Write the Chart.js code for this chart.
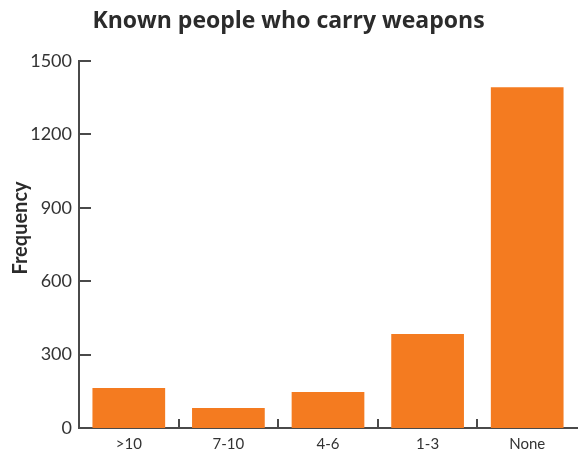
<!DOCTYPE html>
<html>
<head>
<meta charset="utf-8">
<script src="https://cdn.jsdelivr.net/npm/chart.js@4"></script>
<style>
  body { margin: 0; background: #fff; }
  canvas { display: block; }
</style>
</head>
<body>
<canvas id="chart" width="578" height="450"></canvas>
<script>
const categories = [">10", "7-10", "4-6", "1-3", "None"];
const frequency = [163, 82, 147, 384, 1393];
const yTicks = [0, 300, 600, 900, 1200, 1500];

const axisColor = "#4a4a4a";
const fontFamily = "Lato, 'Open Sans', sans-serif";
const titleFamily = "'Open Sans', Lato, sans-serif";

// inward tick marks + y title centred on the canvas
const axisMarks = {
    id: "axisMarks",
    afterDraw(chart) {
        const ctx = chart.ctx;
        const area = chart.chartArea;
        const x = chart.scales.x;
        const y = chart.scales.y;
        ctx.save();
        ctx.strokeStyle = axisColor;
        ctx.lineWidth = 2;
        yTicks.forEach(v => {
            const py = Math.round(y.getPixelForValue(v));
            ctx.beginPath();
            ctx.moveTo(area.left, py);
            ctx.lineTo(area.left + 12, py);
            ctx.stroke();
        });
        for (let i = 1; i < categories.length; i++) {
            const px = Math.round((x.getPixelForValue(i - 1) + x.getPixelForValue(i)) / 2);
            ctx.beginPath();
            ctx.moveTo(px, area.bottom - 9);
            ctx.lineTo(px, area.bottom);
            ctx.stroke();
        }
        ctx.translate(21, 228);
        ctx.rotate(-Math.PI / 2);
        ctx.fillStyle = "#2b2b2b";
        ctx.font = "bold 20px " + fontFamily;
        ctx.textAlign = "center";
        ctx.textBaseline = "middle";
        ctx.fillText("Frequency", 0, 0);
        ctx.restore();
    }
};

new Chart(document.getElementById("chart"), {
    type: "bar",
    data: {
        labels: categories,
        datasets: [{
            data: frequency,
            backgroundColor: "#f47b20",
            barPercentage: 0.73,
            categoryPercentage: 1
        }]
    },
    options: {
        responsive: false,
        animation: false,
        layout: { padding: { left: 0, right: 1, top: 0, bottom: 0 } },
        plugins: {
            legend: { display: false },
            tooltip: { enabled: false },
            title: {
                display: true,
                text: "Known people who carry weapons",
                color: "#2b2b2b",
                font: { family: titleFamily, size: 23, weight: "bold", lineHeight: 1.2 },
                padding: { top: 8, bottom: 25.4 }
            }
        },
        scales: {
            x: {
                grid: { display: false, drawTicks: false },
                border: { display: true, color: axisColor, width: 2 },
                ticks: { color: "#333", padding: 7, font: { family: fontFamily, size: 15 } },
                afterFit(scale) { scale.height = 22; }
            },
            y: {
                min: 0,
                max: 1500,
                afterBuildTicks(scale) { scale.ticks = yTicks.map(v => ({ value: v })); },
                grid: { display: false, drawTicks: false },
                border: { display: true, color: axisColor, width: 2 },
                ticks: {
                    color: "#333",
                    padding: 7,
                    font: { family: fontFamily, size: 18 },
                    callback: v => String(v)
                },
                afterFit(scale) { scale.width = 79; }
            }
        }
    },
    plugins: [axisMarks]
});
</script>
</body>
</html>
